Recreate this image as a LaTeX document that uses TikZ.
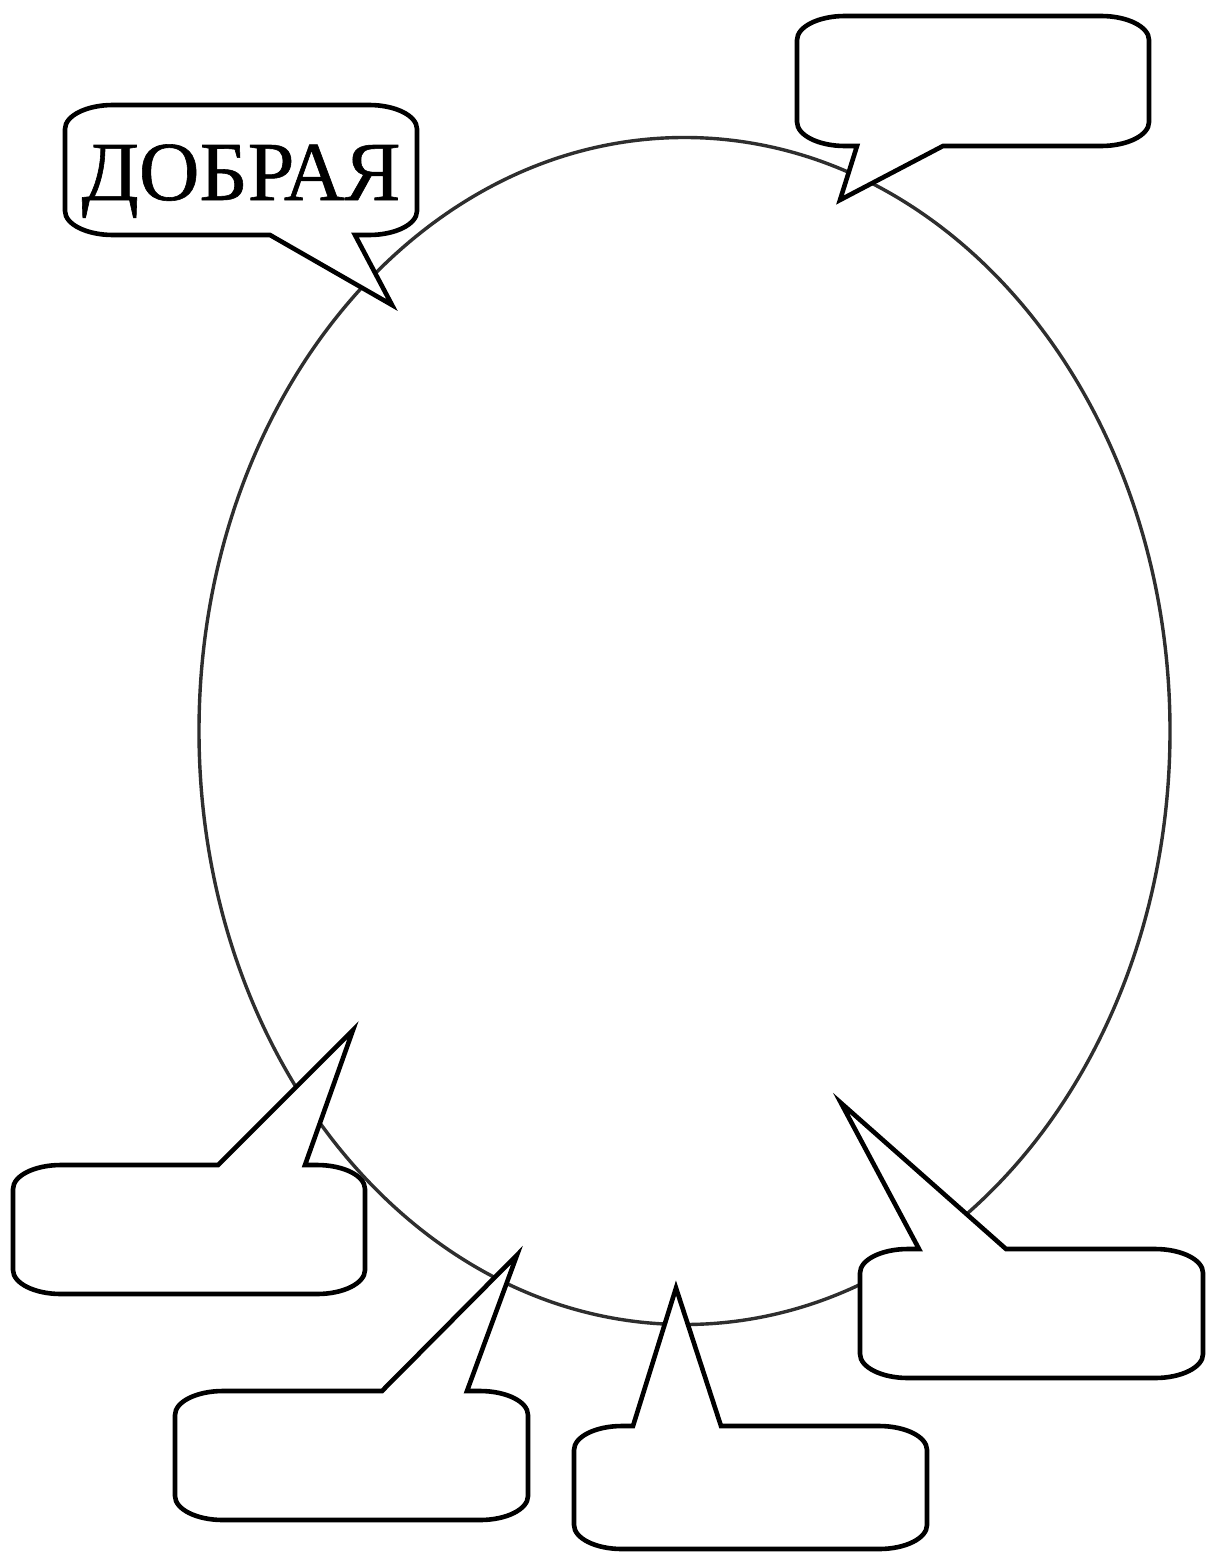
\documentclass[tikz,border=0pt]{standalone}
\usepackage{fontspec}
\setmainfont{Liberation Serif}
\newfontfamily\wordfont[FakeBold=0.7]{Liberation Serif}
\newcommand\bubbleDown[8]{% L T R B  leftbase tipx tipy rightbase
  \path[bubble] (#1+\brx,#2) -- (#3-\brx,#2) arc[start angle=-90,end angle=0,x radius=\brx,y radius=\bry]
    -- (#3,#4-\bry) arc[start angle=0,end angle=90,x radius=\brx,y radius=\bry]
    -- (#8,#4) -- (#6,#7) -- (#5,#4)
    -- (#1+\brx,#4) arc[start angle=90,end angle=180,x radius=\brx,y radius=\bry]
    -- (#1,#2+\bry) arc[start angle=180,end angle=270,x radius=\brx,y radius=\bry] -- cycle;}
\newcommand\bubbleUp[8]{% L T R B  leftbase tipx tipy rightbase
  \path[bubble] (#1+\brx,#2) -- (#5,#2) -- (#6,#7) -- (#8,#2)
    -- (#3-\brx,#2) arc[start angle=-90,end angle=0,x radius=\brx,y radius=\bry]
    -- (#3,#4-\bry) arc[start angle=0,end angle=90,x radius=\brx,y radius=\bry]
    -- (#1+\brx,#4) arc[start angle=90,end angle=180,x radius=\brx,y radius=\bry]
    -- (#1,#2+\bry) arc[start angle=180,end angle=270,x radius=\brx,y radius=\bry] -- cycle;}
\def\brx{48}
\def\bry{24}
\begin{document}
\begin{tikzpicture}[x=1pt,y=-1pt,
  bubble/.style={draw=black,fill=white,line width=4.6pt,line join=miter,miter limit=10},
  oval/.style={draw=black!82,line width=3.4pt}]
\useasboundingbox (0,0) rectangle (1206,1552);
\fill[white] (0,0) rectangle (1206,1552);
\draw[oval] (684.5,731) ellipse [x radius=485.5, y radius=593.5];
\bubbleDown{65}{105}{417}{235}{270}{392}{305}{355}
\bubbleDown{797}{16}{1149}{146}{857}{840}{200}{943}
\bubbleUp{13}{1165}{365}{1294}{218}{353}{1030}{305}
\bubbleUp{175}{1391}{528}{1520}{382}{517}{1255}{467}
\bubbleUp{574}{1426}{927}{1549}{633}{676}{1288}{721}
\bubbleUp{860}{1249}{1203}{1378}{919}{841}{1103}{1006}
\node[font=\wordfont\fontsize{84}{84}\selectfont,anchor=base,inner sep=0pt] (word) at (241,200) {ДОБРАЯ};
\end{tikzpicture}
\end{document}
